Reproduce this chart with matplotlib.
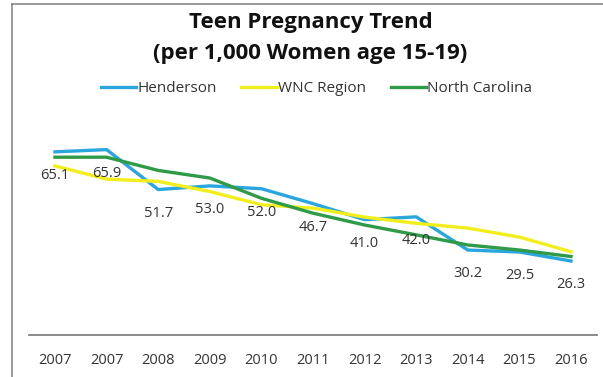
import matplotlib
matplotlib.use('Agg')
import matplotlib.pyplot as plt
from matplotlib.lines import Line2D

plt.rcParams['font.family'] = ['Open Sans', 'DejaVu Sans']

years = ['2007', '2007', '2008', '2009', '2010', '2011',
         '2012', '2013', '2014', '2015', '2016']
henderson = [65.1, 65.9, 51.7, 53.0, 52.0, 46.7, 41.0, 42.0, 30.2, 29.5, 26.3]
wnc_region = [60.1, 55.4, 54.6, 51.0, 46.3, 45.1, 41.9, 39.7, 38.0, 34.8, 29.6]
north_carolina = [63.2, 63.2, 58.5, 55.8, 48.6, 43.3, 39.1, 35.6, 32.0, 30.2, 27.9]

fig = plt.figure(figsize=(6.03, 3.77), dpi=100)
ax = fig.add_axes([0.0484, 0.1114, 0.9413, 0.597])

x = list(range(len(years)))
ax.plot(x, henderson, color='#2aa6df', linewidth=2.4, label='Henderson')
ax.plot(x, wnc_region, color='#f2ee1c', linewidth=2.4, label='WNC Region')
ax.plot(x, north_carolina, color='#2f9a48', linewidth=2.4, label='North Carolina')

# data labels under the Henderson points
for xi, v in zip(x, henderson):
    ax.annotate(f'{v:.1f}', (xi, v), xytext=(0, -17), textcoords='offset points',
                ha='center', va='center', fontsize=10.5, color='#333333')

ax.set_xlim(-0.5, len(years) - 0.5)
ax.set_ylim(0, 80)
ax.set_xticks(x)
ax.set_xticklabels(years, fontsize=10.5, color='#333333')
ax.tick_params(axis='x', length=0, pad=13)
ax.set_yticks([])
for side in ['top', 'right', 'left']:
    ax.spines[side].set_visible(False)
ax.spines['bottom'].set_color('#777777')
ax.spines['bottom'].set_linewidth(1.2)

fig.text(0.515, 1 - 22.5 / 377, 'Teen Pregnancy Trend', ha='center', va='center',
         fontsize=16, fontweight='bold', color='#111111')
fig.text(0.515, 1 - 53 / 377, '(per 1,000 Women age 15-19)', ha='center', va='center',
         fontsize=16, fontweight='bold', color='#111111')

fig.legend(loc='center', bbox_to_anchor=(0.525, 1 - 89 / 377), ncol=3, frameon=False,
           fontsize=11, handlelength=2.3, handletextpad=0.1, columnspacing=1.6,
           labelcolor='#333333')

# frame around the screenshot
fig.add_artist(Line2D([12 / 603, 12 / 603], [0, 1 - 4 / 377], color='#8a8a8a', linewidth=1.2))
fig.add_artist(Line2D([12 / 603, 1], [1 - 4 / 377, 1 - 4 / 377], color='#8a8a8a', linewidth=1.2))

plt.savefig('out.png', dpi=100)
plt.close()
